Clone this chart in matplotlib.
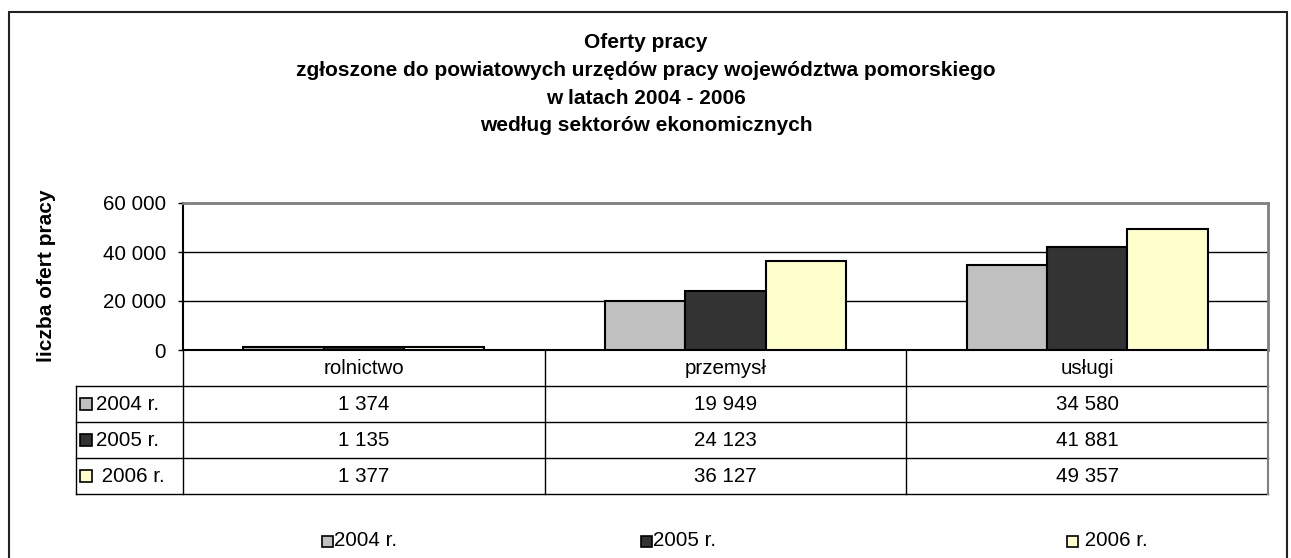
import matplotlib
matplotlib.use('Agg')
import matplotlib.pyplot as plt
import numpy as np
from matplotlib.patches import Rectangle
from matplotlib.lines import Line2D
from matplotlib.ticker import FuncFormatter
from matplotlib.transforms import blended_transform_factory

plt.rcParams['font.family'] = ['Liberation Sans', 'DejaVu Sans']

# data
categories = ['rolnictwo', 'przemysł', 'usługi']
series_labels = ['2004 r.', '2005 r.', '2006 r.']
offers_2004 = [1374, 19949, 34580]
offers_2005 = [1135, 24123, 41881]
offers_2006 = [1377, 36127, 49357]
series = [offers_2004, offers_2005, offers_2006]
colors = ['#C0C0C0', '#333333', '#FFFFCC']
title_lines = [
    'Oferty pracy',
    'zgłoszone do powiatowych urzędów pracy województwa pomorskiego',
    'w latach 2004 - 2006',
    'według sektorów ekonomicznych',
]

W, H = 1291, 558
FS = 14.8


def fx(px):
    return px / W


def fy(py):
    return 1 - py / H


def fmt(v):
    return f'{int(v):,}'.replace(',', ' ')


fig = plt.figure(figsize=(W / 100, H / 100), dpi=100)

# outer frame
fig.add_artist(Rectangle((fx(9), fy(560)), fx(1287) - fx(9), fy(12) - fy(560),
                         transform=fig.transFigure, fill=False,
                         edgecolor='#222222', linewidth=1.5))

for i, line in enumerate(title_lines):
    fig.text(fx(646), fy(43 + 27.5 * i), line, ha='center', va='center',
             fontsize=15, fontweight='bold')

ax = fig.add_axes([fx(183), fy(350), fx(1268) - fx(183), (350 - 203) / H])
x = np.arange(len(categories))
w = 1 / 4.5
for i, vals in enumerate(series):
    ax.bar(x + (i - 1) * w, vals, w, color=colors[i], edgecolor='black',
           linewidth=1.5, zorder=3)

ax.set_xlim(-0.5, 2.5)
ax.set_ylim(0, 60000)
ax.set_yticks(range(0, 60001, 20000))
ax.yaxis.set_major_formatter(FuncFormatter(lambda v, p: fmt(v)))
ax.set_xticks([])
ax.yaxis.grid(True, color='black', linewidth=1)
ax.set_axisbelow(True)
ax.tick_params(axis='y', direction='out', length=3.6, width=1, pad=8.5,
               labelsize=FS)
for s in ['left', 'bottom']:
    ax.spines[s].set_color('black')
    ax.spines[s].set_linewidth(1.5)
for s in ['top', 'right']:
    ax.spines[s].set_color('#808080')
    ax.spines[s].set_linewidth(2)

fig.text(fx(47), fy(276), 'liczba ofert pracy', rotation=90, ha='center',
         va='center', fontsize=15, fontweight='bold')

# data table under the chart
tr = blended_transform_factory(ax.transData, fig.transFigure)
rows_y = [350, 386, 422, 458, 494]
x_right = fx(1268)
for yb in rows_y[1:]:
    fig.add_artist(Line2D([fx(76), x_right], [fy(yb), fy(yb)],
                          transform=fig.transFigure, color='black', lw=1))
fig.add_artist(Line2D([fx(76), fx(76)], [fy(386), fy(494)],
                      transform=fig.transFigure, color='black', lw=1))
for xb in [-0.5, 0.5, 1.5, 2.5]:
    fig.add_artist(Line2D([xb, xb], [fy(350), fy(494)], transform=tr,
                          color='#808080' if xb == 2.5 else 'black',
                          lw=1.5 if xb == 2.5 else 1))

for j, cat in enumerate(categories):
    fig.text(j, fy(368), cat, transform=tr, ha='center', va='center',
             fontsize=FS)
for i, vals in enumerate(series):
    yc = (rows_y[i + 1] + rows_y[i + 2]) / 2
    fig.add_artist(Rectangle((fx(80), fy(yc + 6)), fx(12), 12 / H,
                             transform=fig.transFigure, facecolor=colors[i],
                             edgecolor='black', lw=1.2))
    lab = series_labels[i] if i < 2 else ' ' + series_labels[i]
    fig.text(fx(96), fy(yc), lab, ha='left', va='center', fontsize=FS)
    for j, v in enumerate(vals):
        fig.text(j, fy(yc), fmt(v), transform=tr, ha='center', va='center',
                 fontsize=FS)

# legend
leg_x = [322, 641, 1067]
for i, lab in enumerate(series_labels):
    fig.add_artist(Rectangle((fx(leg_x[i]), fy(547)), fx(11), 11 / H,
                             transform=fig.transFigure, facecolor=colors[i],
                             edgecolor='black', lw=1.2))
    txt = lab if i < 2 else ' ' + lab
    fig.text(fx(leg_x[i] + 12), fy(541), txt, ha='left', va='center',
             fontsize=FS)

fig.savefig('out.png', dpi=100)
